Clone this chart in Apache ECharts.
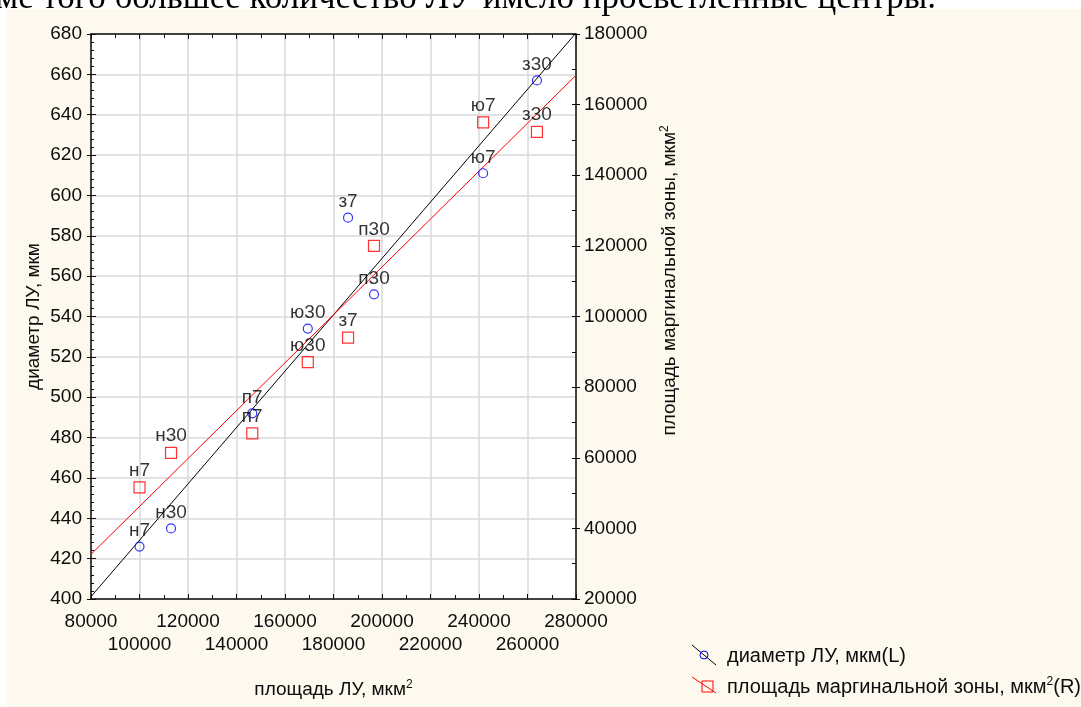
<!DOCTYPE html>
<html>
<head>
<meta charset="utf-8">
<script src="https://cdn.jsdelivr.net/npm/echarts@6/dist/echarts.min.js"></script>
<style>
  html, body { margin: 0; padding: 0; background: #ffffff; }
  #chart { width: 1081px; height: 707px; }
</style>
</head>
<body>
<div id="chart"></div>
<script>
// Lymph node groups (н – норма, п, ю, з – series, 7 / 30 – days)
const pointLabels = ['н7', 'н30', 'п7', 'ю30', 'з7', 'п30', 'ю7', 'з30'];
// площадь ЛУ, мкм² (shared X)
const areaLU = [100000, 113000, 146500, 169400, 186000, 196700, 241700, 263900];
// диаметр ЛУ, мкм (left axis)
const diameterLU = [426, 435, 492, 534, 589, 551, 611, 657];
// площадь маргинальной зоны, мкм² (right axis)
const marginalArea = [51600, 61400, 66900, 87100, 94000, 120000, 155000, 152300];

// Axis ranges and steps
const xRange = [80000, 280000], xStep = 20000;
const leftRange = [400, 680], leftStep = 20;
const rightRange = [20000, 180000], rightStep = 20000;

const seriesNames = ['диаметр ЛУ, мкм(L)', 'площадь маргинальной зоны, мкм{sup|2}(R)'];

// Least-squares straight line through (xs, ys), returned at both ends of the X range
function linearFit(xs, ys) {
  const n = xs.length;
  const mx = xs.reduce((a, b) => a + b, 0) / n;
  const my = ys.reduce((a, b) => a + b, 0) / n;
  let sxy = 0, sxx = 0;
  for (let i = 0; i < n; i++) {
    sxy += (xs[i] - mx) * (ys[i] - my);
    sxx += (xs[i] - mx) * (xs[i] - mx);
  }
  const k = sxy / sxx, b = my - k * mx;
  return xRange.map(x => [x, b + k * x]);
}

// X tick labels alternate between two rows
const isUpperRow = v => Math.round((v - xRange[0]) / xStep) % 2 === 0;

const FONT = '"Liberation Sans", Arial, sans-serif';
const INK = '#0d0d0d';
const GRIDLINE = '#d9d9d9';
const FS = 19;
const supRich = { sup: { fontSize: 12, verticalAlign: 'top', padding: [0, 0, 10, 0], fontFamily: FONT, color: INK } };

const chart = echarts.init(document.getElementById('chart'), null, { renderer: 'canvas' });

const labelStyle = {
  show: true, position: 'top', distance: 1,
  formatter: p => pointLabels[p.dataIndex],
  fontFamily: FONT, fontSize: 19, color: '#000'
};

const hiddenAxisParts = {
  axisLine: { show: false }, axisTick: { show: false }, splitLine: { show: false }
};

const option = {
  animation: false,
  backgroundColor: '#ffffff',
  textStyle: { fontFamily: FONT },
  grid: {
    left: 91, right: 505, top: 34, bottom: 108,
    show: true, backgroundColor: '#ffffff', borderWidth: 0
  },
  graphic: [
    // cream page panel
    { type: 'rect', z: -10, silent: true, shape: { x: 7, y: 9, width: 1074, height: 698 }, style: { fill: '#fef9ee' } },
    // preceding paragraph line
    { type: 'text', z: 10, left: -4, top: -19, silent: true,
      style: { text: 'ме того большее количество ЛУ имело просветленные центры.', font: '35px "Liberation Serif", "Times New Roman", serif', fill: '#000' } },
    // legend: diameter
    { type: 'line', shape: { x1: 692, y1: 645, x2: 716, y2: 665 }, style: { stroke: '#000', lineWidth: 1 } },
    { type: 'circle', shape: { cx: 704, cy: 655, r: 4 }, style: { fill: 'none', stroke: '#0000ff', lineWidth: 1 } },
    { type: 'text', x: 727, y: 656, style: { text: seriesNames[0], fontFamily: FONT, fontSize: 20, fill: INK, verticalAlign: 'middle' } },
    // legend: marginal zone
    { type: 'line', shape: { x1: 692, y1: 677, x2: 716, y2: 693 }, style: { stroke: '#ff0000', lineWidth: 1 } },
    { type: 'rect', shape: { x: 702, y: 681, width: 11, height: 11 }, style: { fill: 'none', stroke: '#ff0000', lineWidth: 1 } },
    { type: 'text', x: 727, y: 687, style: { text: seriesNames[1], fontFamily: FONT, fontSize: 20, fill: INK, verticalAlign: 'middle', rich: supRich } }
  ],
  xAxis: [
    {
      type: 'value', position: 'bottom', min: xRange[0], max: xRange[1], interval: xStep,
      name: 'площадь ЛУ, мкм{sup|2}', nameLocation: 'middle', nameGap: 80,
      nameTextStyle: { fontFamily: FONT, fontSize: FS, color: INK, rich: supRich },
      axisLine: { show: true, lineStyle: { color: INK, width: 1.5 } },
      axisTick: { show: true, inside: true, length: 5, lineStyle: { color: INK } },
      minorTick: { show: true, splitNumber: 2, length: 4, lineStyle: { color: INK } },
      splitLine: { show: true, lineStyle: { color: GRIDLINE, width: 1.5 } },
      axisLabel: {
        interval: 0, showMinLabel: true, showMaxLabel: true,
        margin: 13, fontFamily: FONT, fontSize: FS, color: INK,
        formatter: v => (isUpperRow(v) ? String(v) : '')
      }
    },
    {
      type: 'value', position: 'top', min: xRange[0], max: xRange[1], interval: xStep,
      axisLine: { show: true, lineStyle: { color: INK, width: 1.5 } },
      axisTick: { show: true, inside: true, length: 5, lineStyle: { color: INK } },
      minorTick: { show: true, splitNumber: 2, length: 4, lineStyle: { color: INK } },
      splitLine: { show: false },
      axisLabel: { show: false }
    },
    // lower row of X tick labels
    Object.assign({
      type: 'value', position: 'bottom', offset: 0, min: xRange[0], max: xRange[1], interval: xStep,
      axisLabel: {
        interval: 0, showMinLabel: true, showMaxLabel: true,
        margin: 36, fontFamily: FONT, fontSize: FS, color: INK,
        formatter: v => (isUpperRow(v) ? '' : String(v))
      }
    }, hiddenAxisParts)
  ],
  yAxis: [
    {
      type: 'value', position: 'left', min: leftRange[0], max: leftRange[1], interval: leftStep,
      name: 'диаметр ЛУ, мкм', nameLocation: 'middle', nameGap: 48,
      nameTextStyle: { fontFamily: FONT, fontSize: FS, color: INK },
      axisLine: { show: true, lineStyle: { color: INK, width: 1.5 } },
      axisTick: { show: true, inside: false, length: 4, lineStyle: { color: INK } },
      splitLine: { show: true, lineStyle: { color: GRIDLINE, width: 1.5 } },
      axisLabel: { margin: 9, fontFamily: FONT, fontSize: FS, color: INK, formatter: v => String(v) }
    },
    {
      type: 'value', position: 'right', min: rightRange[0], max: rightRange[1], interval: rightStep,
      name: 'площадь маргинальной зоны, мкм{sup|2}', nameLocation: 'middle', nameGap: 83,
      nameTextStyle: { fontFamily: FONT, fontSize: FS, color: INK, rich: supRich, padding: [0, 0, 0, 72] },
      axisLine: { show: true, lineStyle: { color: INK, width: 1.5 } },
      axisTick: { show: true, inside: false, length: 4, lineStyle: { color: INK } },
      splitLine: { show: false },
      axisLabel: { margin: 8, fontFamily: FONT, fontSize: FS, color: INK, formatter: v => String(v) }
    },
    // inner tick marks on the left edge
    {
      type: 'value', position: 'left', min: leftRange[0], max: leftRange[1], interval: leftStep,
      axisLine: { show: false },
      axisTick: { show: true, inside: true, length: 5, lineStyle: { color: INK } },
      minorTick: { show: true, splitNumber: 5, length: 3, lineStyle: { color: INK } },
      splitLine: { show: false },
      axisLabel: { show: false }
    },
    // inner tick marks on the right edge
    {
      type: 'value', position: 'right', min: rightRange[0], max: rightRange[1], interval: rightStep / 2,
      axisLine: { show: false },
      axisTick: { show: true, inside: true, length: 4, lineStyle: { color: INK } },
      splitLine: { show: false },
      axisLabel: { show: false }
    }
  ],
  series: [
    {
      name: 'fit-diameter', type: 'line', xAxisIndex: 0, yAxisIndex: 0,
      data: linearFit(areaLU, diameterLU), symbol: 'none', silent: true, z: 2,
      lineStyle: { color: '#000000', width: 1 }
    },
    {
      name: 'fit-marginal', type: 'line', xAxisIndex: 0, yAxisIndex: 1,
      data: linearFit(areaLU, marginalArea), symbol: 'none', silent: true, z: 2,
      lineStyle: { color: '#ff0000', width: 1 }
    },
    {
      name: seriesNames[0], type: 'scatter', xAxisIndex: 0, yAxisIndex: 0, z: 3,
      data: areaLU.map((x, i) => [x, diameterLU[i]]),
      symbol: 'circle', symbolSize: 9,
      itemStyle: { color: 'rgba(0,0,0,0)', borderColor: '#0000ff', borderWidth: 1.2 },
      label: labelStyle
    },
    {
      name: seriesNames[1], type: 'scatter', xAxisIndex: 0, yAxisIndex: 1, z: 3,
      data: areaLU.map((x, i) => [x, marginalArea[i]]),
      symbol: 'rect', symbolSize: 11,
      itemStyle: { color: 'rgba(0,0,0,0)', borderColor: '#ff0000', borderWidth: 1.2 },
      label: labelStyle
    }
  ]
};

chart.setOption(option);
</script>
</body>
</html>
